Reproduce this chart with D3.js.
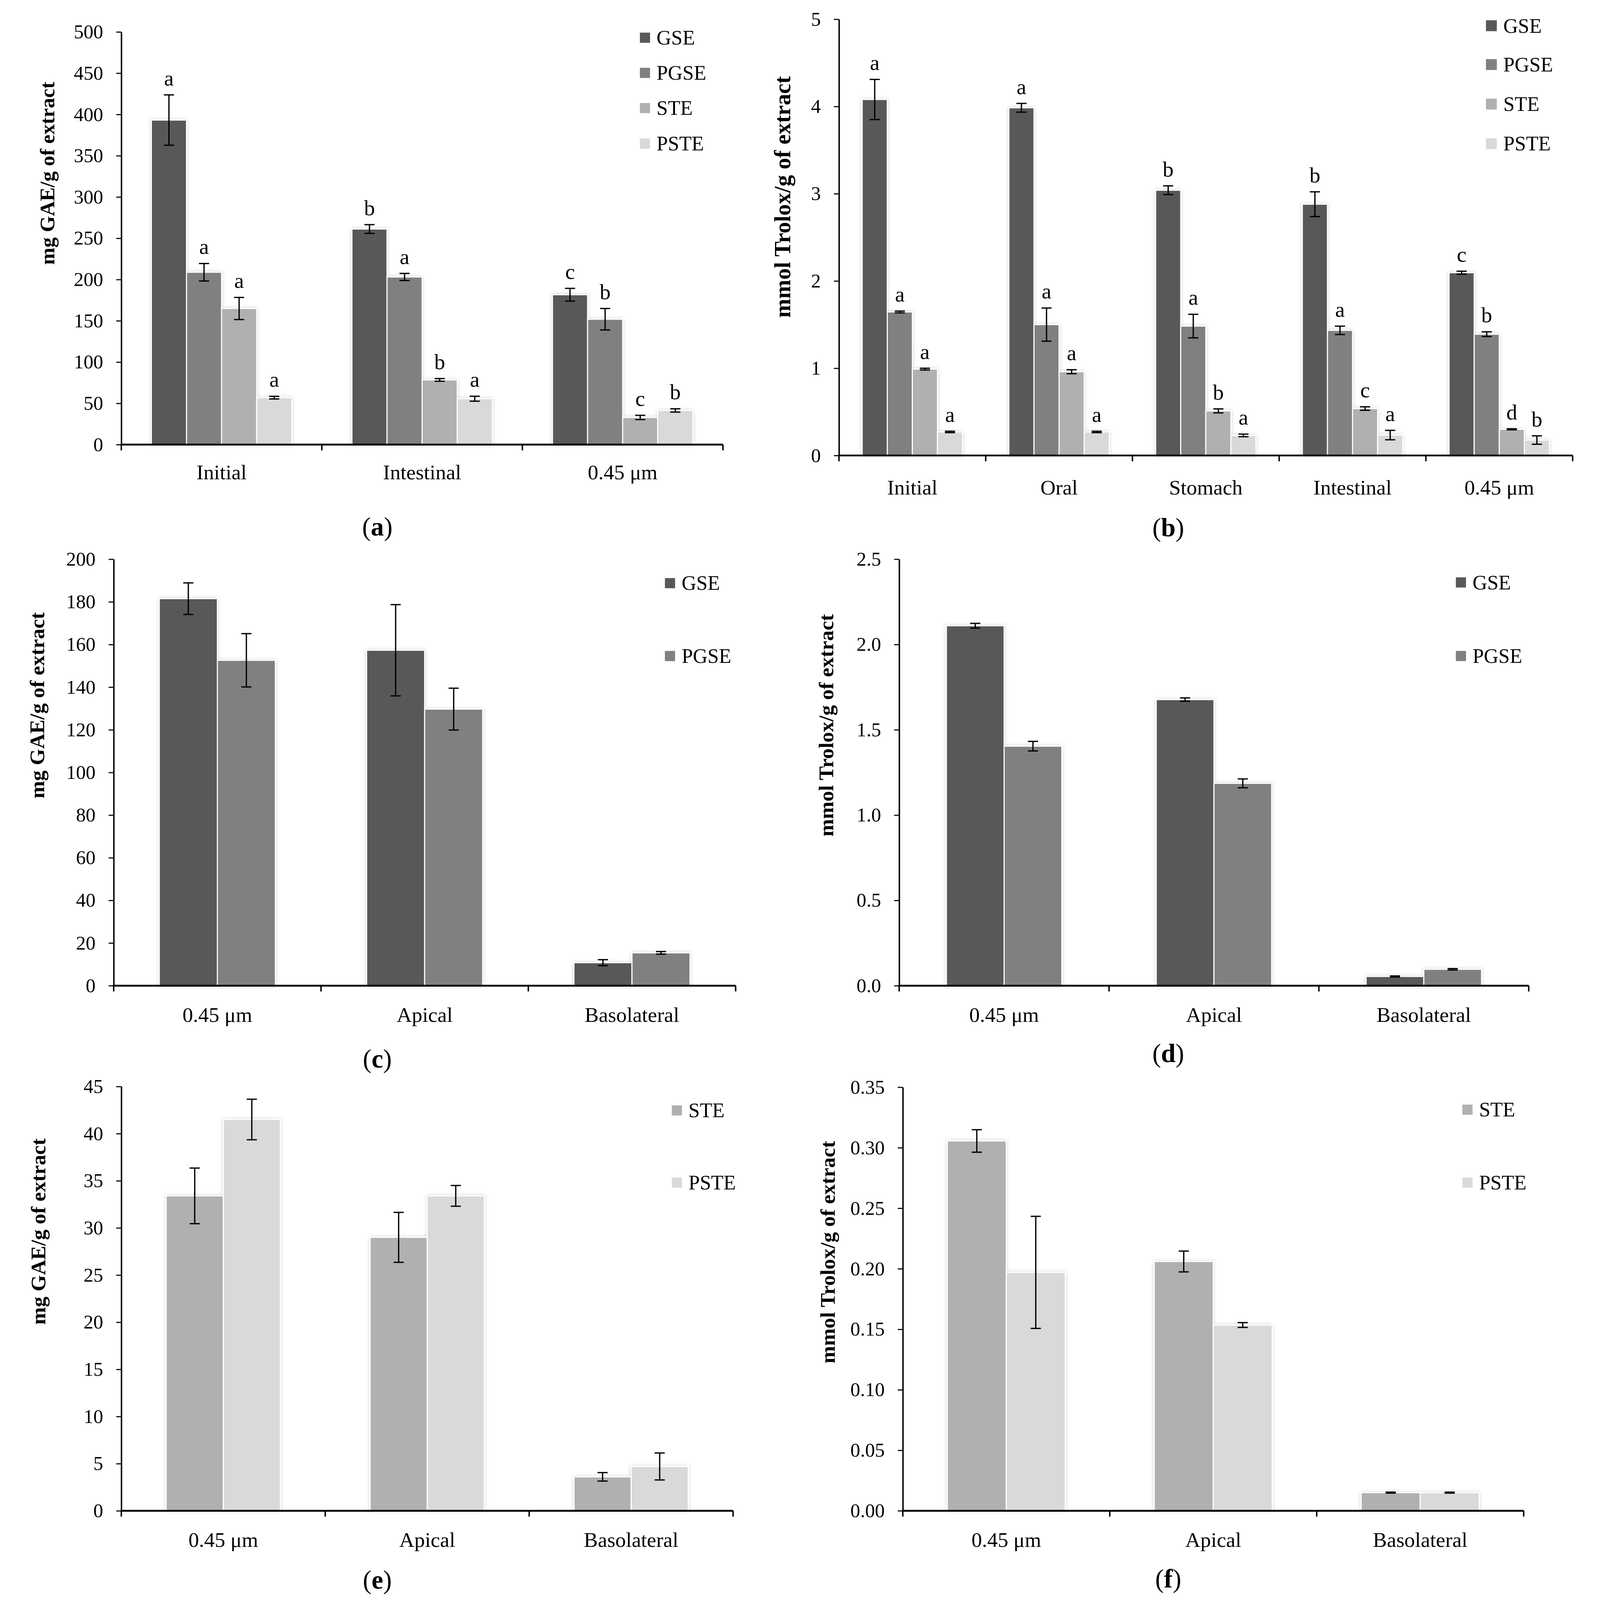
<!DOCTYPE html>
<html>
<head>
<meta charset="utf-8">
<script src="https://cdn.jsdelivr.net/npm/d3@7"></script>
<style>
  html, body { margin: 0; padding: 0; background: #fff; overflow: hidden; }
  svg { display: block; width: 100vw; height: 100vh; }
  text { font-family: "Liberation Serif", "Times New Roman", serif; fill: #000; }
</style>
</head>
<body>
<script>
// ---- data ----
const seriesKeys = ["GSE", "PGSE", "STE", "PSTE"];
const catsA = ["Initial", "Intestinal", "0.45 μm"];
const catsB = ["Initial", "Oral", "Stomach", "Intestinal", "0.45 μm"];
const catsCell = ["0.45 μm", "Apical", "Basolateral"];

// (a) phenolics, mg GAE/g of extract
const aGSE = [393.2, 261.2, 181.6], aGSEsd = [30.5, 5.3, 7.7], aGSEsig = ["a", "b", "c"];
const aPGSE = [208.8, 203.1, 151.9], aPGSEsd = [10.6, 4.3, 13.0], aPGSEsig = ["a", "a", "b"];
const aSTE = [164.9, 78.4, 32.9], aSTEsd = [13.4, 1.6, 2.6], aSTEsig = ["a", "b", "c"];
const aPSTE = [56.9, 55.6, 41.4], aPSTEsd = [1.6, 3.0, 2.0], aPSTEsig = ["a", "a", "b"];

// (b) antioxidant capacity, mmol Trolox/g of extract
const bGSE = [4.08, 3.985, 3.04, 2.88, 2.095], bGSEsd = [0.23, 0.05, 0.05, 0.142, 0.017], bGSEsig = ["a", "a", "b", "b", "c"];
const bPGSE = [1.645, 1.50, 1.483, 1.434, 1.39], bPGSEsd = [0.01, 0.19, 0.135, 0.048, 0.027], bPGSEsig = ["a", "a", "a", "a", "b"];
const bSTE = [0.99, 0.96, 0.511, 0.538, 0.30], bSTEsd = [0.01, 0.023, 0.023, 0.02, 0.006], bSTEsig = ["a", "a", "b", "c", "d"];
const bPSTE = [0.27, 0.27, 0.23, 0.234, 0.177], bPSTEsd = [0.008, 0.008, 0.015, 0.054, 0.048], bPSTEsig = ["a", "a", "a", "a", "b"];

// (c) grape seed extracts through the cell model, mg GAE/g
const cGSE = [181.5, 157.3, 10.8], cGSEsd = [7.4, 21.4, 1.4];
const cPGSE = [152.6, 129.7, 15.4], cPGSEsd = [12.5, 9.8, 0.6];

// (d) grape seed extracts, mmol Trolox/g
const dGSE = [2.11, 1.677, 0.054], dGSEsd = [0.014, 0.01, 0.003];
const dPGSE = [1.404, 1.186, 0.096], dPGSEsd = [0.028, 0.026, 0.004];

// (e) skin extracts, mg GAE/g
const eSTE = [33.4, 29.0, 3.6], eSTEsd = [2.95, 2.65, 0.45];
const ePSTE = [41.5, 33.4, 4.7], ePSTEsd = [2.15, 1.1, 1.43];

// (f) skin extracts, mmol Trolox/g
const fSTE = [0.3056, 0.206, 0.015], fSTEsd = [0.0093, 0.0086, 0.0004];
const fPSTE = [0.197, 0.1535, 0.015], fPSTEsd = [0.0463, 0.002, 0.0004];

// ---- styles ----
const colors = { GSE: "#595959", PGSE: "#808080", STE: "#b0b0b0", PSTE: "#d9d9d9" };
const W = 4347, H = 4412;

const panels = [
  { id: "a", cats: catsA, keys: seriesKeys,
    vals: [aGSE, aPGSE, aSTE, aPSTE], errs: [aGSEsd, aPGSEsd, aSTEsd, aPSTEsd], sig: [aGSEsig, aPGSEsig, aSTEsig, aPSTEsig],
    yMax: 500, yStep: 50, fmt: d3.format("d"), title: "mg GAE/g of extract",
    left: 302, right: 1961, top: 88, base: 1226, pad: 0.30, labelDy: 96,
    legX: 1732, legY: [104, 201, 298, 396], legSize: 28,
    titleX: 97, titleY: 478, titleSize: 57, capX: 1008, capY: 1477 },
  { id: "b", cats: catsB, keys: seriesKeys,
    vals: [bGSE, bPGSE, bSTE, bPSTE], errs: [bGSEsd, bPGSEsd, bSTEsd, bPSTEsd], sig: [bGSEsig, bPGSEsig, bSTEsig, bPSTEsig],
    yMax: 5, yStep: 1, fmt: d3.format("d"), title: "mmol Trolox/g of extract",
    left: 2281, right: 4304, top: 53, base: 1256, pad: 0.316, labelDy: 108,
    legX: 4065, legY: [71, 178, 287, 396], legSize: 30,
    titleX: 2124, titleY: 543, titleSize: 63, capX: 3189, capY: 1479 },
  { id: "c", cats: catsCell, keys: ["GSE", "PGSE"],
    vals: [cGSE, cPGSE], errs: [cGSEsd, cPGSEsd], sig: null,
    yMax: 200, yStep: 20, fmt: d3.format("d"), title: "mg GAE/g of extract",
    left: 281, right: 1996, top: 1542, base: 2718, pad: 0.44, labelDy: 100,
    legX: 1801, legY: [1608, 1809], legSize: 28,
    titleX: 69, titleY: 1945, titleSize: 58, capX: 1008, capY: 2944 },
  { id: "d", cats: catsCell, keys: ["GSE", "PGSE"],
    vals: [dGSE, dPGSE], errs: [dGSEsd, dPGSEsd], sig: null,
    yMax: 2.5, yStep: 0.5, fmt: d3.format(".1f"), title: "mmol Trolox/g of extract",
    left: 2447, right: 4183, top: 1542, base: 2718, pad: 0.45, labelDy: 100,
    legX: 3982, legY: [1606, 1809], legSize: 28,
    titleX: 2245, titleY: 2000, titleSize: 58, capX: 3189, capY: 2929 },
  { id: "e", cats: catsCell, keys: ["STE", "PSTE"],
    vals: [eSTE, ePSTE], errs: [eSTEsd, ePSTEsd], sig: null,
    yMax: 45, yStep: 5, fmt: d3.format("d"), title: "mg GAE/g of extract",
    left: 302, right: 1989, top: 2996, base: 4166, pad: 0.44, labelDy: 100,
    legX: 1820, legY: [3062, 3261], legSize: 28,
    titleX: 72, titleY: 3396, titleSize: 58, capX: 1008, capY: 4381 },
  { id: "f", cats: catsCell, keys: ["STE", "PSTE"],
    vals: [fSTE, fPSTE], errs: [fSTEsd, fPSTEsd], sig: null,
    yMax: 0.35, yStep: 0.05, fmt: d3.format(".2f"), title: "mmol Trolox/g of extract",
    left: 2457, right: 4169, top: 2998, base: 4166, pad: 0.43, labelDy: 100,
    legX: 4000, legY: [3060, 3261], legSize: 28,
    titleX: 2249, titleY: 3453, titleSize: 58, capX: 3189, capY: 4378 }
];

// the figure is laid out in its own 4347x4412 units and scaled to the window
const svg = d3.select("body").append("svg")
    .attr("viewBox", `0 0 ${W} ${H}`)
    .attr("preserveAspectRatio", "xMidYMid meet");

svg.append("rect").attr("width", W).attr("height", H).attr("fill", "#fff");

// soft shadow that Excel puts round the bars
const defs = svg.append("defs");
defs.append("filter").attr("id", "shadow")
    .attr("x", "-20%").attr("y", "-5%").attr("width", "140%").attr("height", "110%")
  .append("feDropShadow")
    .attr("dx", 0).attr("dy", 0).attr("stdDeviation", 5)
    .attr("flood-color", "#000").attr("flood-opacity", 0.18);

panels.forEach(drawPanel);

function drawPanel(p) {
  const g = svg.append("g").attr("class", "panel panel--" + p.id);

  const y = d3.scaleLinear().domain([0, p.yMax]).range([p.base, p.top]);
  const x0 = d3.scaleBand().domain(p.cats).range([p.left, p.right])
      .paddingInner(p.pad).paddingOuter(p.pad / 2);
  const x1 = d3.scaleBand().domain(p.keys).range([0, x0.bandwidth()]);

  // flatten into rows for the marks
  const rows = [];
  p.keys.forEach((k, si) => {
    p.cats.forEach((c, ci) => {
      rows.push({ key: k, cat: c, v: p.vals[si][ci], e: p.errs[si][ci], sig: p.sig ? p.sig[si][ci] : null });
    });
  });

  // bars
  g.append("g").attr("class", "bars").attr("filter", "url(#shadow)")
    .selectAll("rect").data(rows)
    .enter().append("rect")
      .attr("x", d => x0(d.cat) + x1(d.key))
      .attr("y", d => y(d.v))
      .attr("width", x1.bandwidth())
      .attr("height", d => y(0) - y(d.v))
      .attr("fill", d => colors[d.key])
      .attr("stroke", "#fff")
      .attr("stroke-width", 3);

  // y axis
  const ticks = d3.range(0, p.yMax + p.yStep / 2, p.yStep);
  const yAxis = g.append("g").attr("class", "axis axis--y")
      .attr("transform", `translate(${p.left},0)`)
      .call(d3.axisLeft(y).tickValues(ticks).tickFormat(p.fmt).tickSize(14).tickSizeOuter(0).tickPadding(36));
  yAxis.select(".domain").attr("stroke", "#000").attr("stroke-width", 4);
  yAxis.selectAll(".tick line").attr("stroke", "#000").attr("stroke-width", 3);
  yAxis.selectAll(".tick text")
      .style("font-family", '"Liberation Serif", serif')
      .style("font-size", "54px");

  // x axis: baseline, ticks on category boundaries, labels at category centres
  const xg = g.append("g").attr("class", "axis axis--x");
  xg.append("line")
      .attr("x1", p.left - 2).attr("x2", p.right)
      .attr("y1", y(0)).attr("y2", y(0))
      .attr("stroke", "#000").attr("stroke-width", 5);
  const bounds = p.cats.map(c => x0(c) - x0.step() * p.pad / 2).concat([p.right]);
  xg.selectAll(".bound").data(bounds)
    .enter().append("line")
      .attr("x1", d => d).attr("x2", d => d)
      .attr("y1", y(0)).attr("y2", y(0) + 16)
      .attr("stroke", "#000").attr("stroke-width", 4);
  xg.selectAll(".cat").data(p.cats)
    .enter().append("text")
      .attr("x", d => x0(d) + x0.bandwidth() / 2)
      .attr("y", y(0) + p.labelDy)
      .attr("text-anchor", "middle")
      .style("font-size", "58px")
      .text(d => d);

  // error bars
  const cap = 14;
  const eb = g.append("g").attr("class", "errors")
    .selectAll("g").data(rows)
    .enter().append("g")
      .attr("transform", d => `translate(${x0(d.cat) + x1(d.key) + x1.bandwidth() / 2},0)`);
  eb.append("line")
      .attr("y1", d => y(d.v - d.e)).attr("y2", d => y(d.v + d.e))
      .attr("stroke", "#000").attr("stroke-width", 3.5);
  eb.append("line")
      .attr("x1", -cap).attr("x2", cap)
      .attr("y1", d => y(d.v + d.e)).attr("y2", d => y(d.v + d.e))
      .attr("stroke", "#000").attr("stroke-width", 3.5);
  eb.append("line")
      .attr("x1", -cap).attr("x2", cap)
      .attr("y1", d => y(d.v - d.e)).attr("y2", d => y(d.v - d.e))
      .attr("stroke", "#000").attr("stroke-width", 3.5);

  // significance letters
  if (p.sig) {
    g.append("g").attr("class", "letters")
      .selectAll("text").data(rows)
      .enter().append("text")
        .attr("x", d => x0(d.cat) + x1(d.key) + x1.bandwidth() / 2)
        .attr("y", d => y(d.v + d.e) - 26)
        .attr("text-anchor", "middle")
        .style("font-size", "60px")
        .text(d => d.sig);
  }

  // legend
  const leg = g.append("g").attr("class", "legend")
    .selectAll("g").data(p.keys)
    .enter().append("g")
      .attr("transform", (d, i) => `translate(${p.legX},${p.legY[i]})`);
  leg.append("rect")
      .attr("x", 0).attr("y", -p.legSize / 2)
      .attr("width", p.legSize).attr("height", p.legSize)
      .attr("fill", d => colors[d]);
  leg.append("text")
      .attr("x", p.legSize + 18)
      .attr("y", 19)
      .style("font-size", "56px")
      .text(d => d);

  // y title
  g.append("text")
      .attr("transform", `translate(${p.titleX},${p.titleY}) rotate(-90)`)
      .attr("text-anchor", "middle")
      .attr("dy", "0.35em")
      .style("font-weight", "bold")
      .style("font-size", p.titleSize + "px")
      .text(p.title);

  // panel caption
  const capText = g.append("text")
      .attr("x", p.capX).attr("y", p.capY)
      .attr("text-anchor", "middle")
      .style("font-size", "72px");
  capText.append("tspan").text("(");
  capText.append("tspan").style("font-weight", "bold").text(p.id);
  capText.append("tspan").text(")");
}
</script>
</body>
</html>
